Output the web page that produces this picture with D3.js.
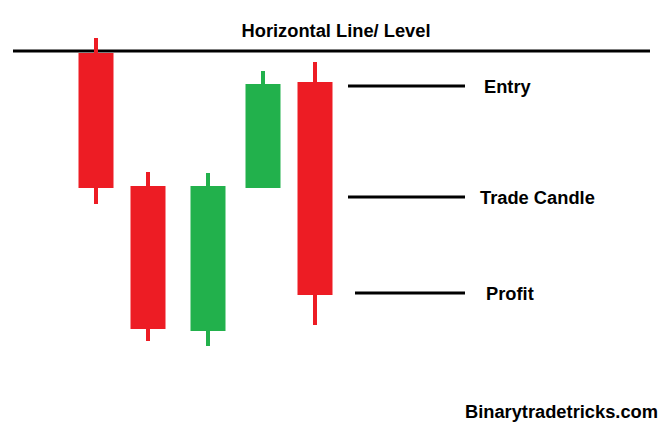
<!DOCTYPE html>
<html><head><meta charset="utf-8">
<script src="https://cdn.jsdelivr.net/npm/d3@7"></script>
<style>body{margin:0;background:#fff}</style></head>
<body><svg id="c" width="667" height="427"></svg>
<script>
const positions = [96,148,208,263,315];
const opens  = [374,241,96,239,345];
const closes = [239,98,241,343,132];
const highs  = [389,255,254,356,365];
const lows   = [223,86,81,239,102];
const levelValue = 376;
const markers = [
  {label:"Entry", value:341, x0:348, tx:484},
  {label:"Trade Candle", value:230, x0:348, tx:480},
  {label:"Profit", value:134, x0:355, tx:486}
];
const svg = d3.select("#c");
const y = d3.scaleLinear().domain([0,427]).range([427,0]);
const x = d3.scaleLinear().domain([0,667]).range([0,667]);
const red="#ed1c24", green="#22b14c";
const font="'Liberation Sans', Arial, sans-serif";
const fs=18.3;
svg.append("line").attr("x1",x(13)).attr("x2",x(650)).attr("y1",y(levelValue)).attr("y2",y(levelValue)).attr("stroke","#000").attr("stroke-width",3);
svg.append("text").attr("x",336).attr("y",37).attr("text-anchor","middle").attr("font-family",font).attr("font-weight","bold").attr("font-size",fs).text("Horizontal Line/ Level");
positions.forEach((p,i)=>{
  const c = closes[i]>opens[i]?green:red;
  svg.append("line").attr("x1",x(p)).attr("x2",x(p)).attr("y1",y(highs[i])).attr("y2",y(lows[i])).attr("stroke",c).attr("stroke-width",4);
  svg.append("rect").attr("x",x(p)-17.5).attr("width",35).attr("y",y(Math.max(opens[i],closes[i]))).attr("height",y(Math.min(opens[i],closes[i]))-y(Math.max(opens[i],closes[i]))).attr("fill",c);
});
markers.forEach(m=>{
  svg.append("line").attr("x1",x(m.x0)).attr("x2",x(465)).attr("y1",y(m.value)).attr("y2",y(m.value)).attr("stroke","#000").attr("stroke-width",3);
  svg.append("text").attr("x",m.tx).attr("y",y(m.value)+6.5).attr("font-family",font).attr("font-weight","bold").attr("font-size",fs).text(m.label);
});
svg.append("text").attr("x",658).attr("y",418).attr("text-anchor","end").attr("font-family",font).attr("font-weight","bold").attr("font-size",fs).text("Binarytradetricks.com");
</script></body></html>
